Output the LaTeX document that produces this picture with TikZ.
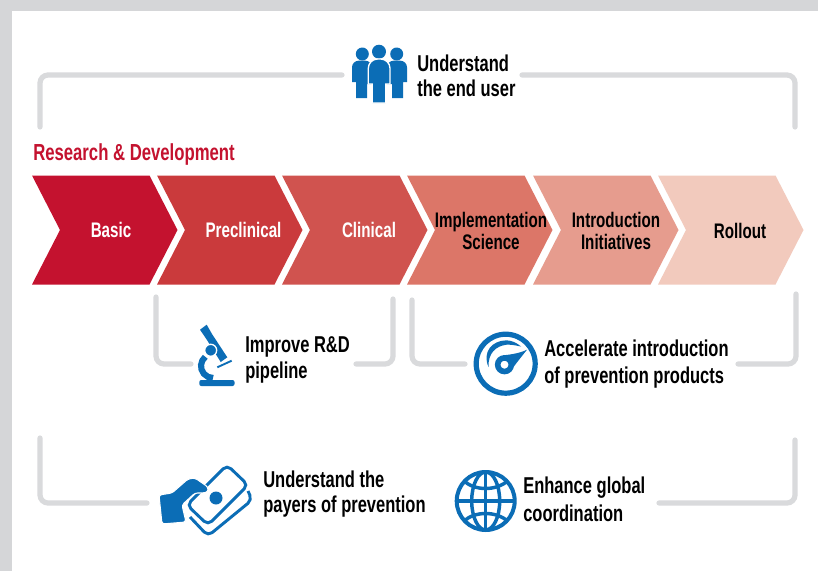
\documentclass[tikz,border=0pt]{standalone}
\usepackage{fontspec}
\setmainfont{Liberation Sans}[FakeStretch=0.72]
\usepackage{tikz}
\usetikzlibrary{positioning}
\definecolor{pagegray}{HTML}{D5D6D8}
\definecolor{linegray}{HTML}{D9DADC}
\definecolor{iconblue}{HTML}{0B6DB6}
\definecolor{headred}{HTML}{C4122F}
\definecolor{stepb}{HTML}{CA3A3C}
\definecolor{stepc}{HTML}{D0534F}
\definecolor{stepd}{HTML}{DC7668}
\definecolor{stepe}{HTML}{E69C8E}
\definecolor{stepf}{HTML}{F2CABD}
\tikzset{
	bracket/.style={draw=linegray, line width=3.9pt, line cap=round, rounded corners=6pt},
	chevlabel/.style={font=\fontsize{15.8}{16.5}\selectfont\bfseries, align=center},
	sidelabel/.style={font=\fontsize{17.2}{18.9}\selectfont\bfseries, align=left, anchor=west, inner sep=0pt},
	icon/.style={fill=iconblue, draw=none},
	iconline/.style={draw=iconblue, fill=none}
}
\newcommand{\chevron}[2]{\fill[#2] (#1,-175.5) -- ++(117.5,0) -- ++(28,-54.5) -- ++(-28,-54.5) -- ++(-117.5,0) -- ++(28,54.5) -- cycle;}
\begin{document}
\begin{tikzpicture}[x=0.75pt, y=0.75pt]
	\useasboundingbox (0,0) rectangle (818,-571);
	\fill[pagegray] (0,0) rectangle (818,-571);
	\fill[white] (12,-11) rectangle (818,-571);

	% chevrons
	\chevron{32}{headred}
	\chevron{157}{stepb}
	\chevron{282}{stepc}
	\chevron{407}{stepd}
	\chevron{533}{stepe}
	\chevron{658}{stepf}

	\node[chevlabel, text=white] (basic) at (111,-230) {Basic};
	\node[chevlabel, text=white] (preclinical) at (243.5,-230) {Preclinical};
	\node[chevlabel, text=white] (clinical) at (369,-230) {Clinical};
	\node[chevlabel] (implementation) at (491,-230.5) {Implementation\\Science};
	\node[chevlabel] (introduction) at (616,-230.5) {Introduction\\Initiatives};
	\node[chevlabel] (rollout) at (740,-231) {Rollout};

	\node[anchor=west, inner sep=0pt, text=headred, font=\fontsize{17.4}{18}\selectfont\bfseries] (heading) at (33,-154.5) {Research \& Development};

	% brackets
	\draw[bracket] (40,-127) -- (40,-75) -- (342,-75);
	\draw[bracket] (522,-75) -- (795,-75) -- (795,-127);
	\draw[bracket] (156,-297) -- (156,-364) -- (191,-364);
	\draw[bracket] (356,-364) -- (393,-364) -- (393,-299);
	\draw[bracket] (412,-300) -- (412,-364) -- (465,-364);
	\draw[bracket] (738,-364) -- (796,-364) -- (796,-294);
	\draw[bracket] (40,-438) -- (40,-503) -- (147,-503);
	\draw[bracket] (659,-503) -- (795,-503) -- (795,-440);

	\node[sidelabel] (enduser) at (417,-75.5) {Understand\\the end user};
	\node[sidelabel] (pipeline) at (245,-360) {Improve R\&D\\pipeline};
	\node[sidelabel] (products) at (544,-364) {Accelerate introduction\\[1.5pt]of prevention products};
	\node[sidelabel] (payers) at (263,-494) {Understand the\\payers of prevention};
	\node[sidelabel] (global) at (523,-499.5) {Enhance global\\[2pt]coordination};

	% people
	\fill[icon] (362.3,-54) circle (6.5);
	\fill[icon] (396.7,-54) circle (6.5);
	\fill[icon] (379,-51.7) circle (7);
	\fill[icon, rounded corners=5pt] (352,-82) -- (352,-60.7) -- (372,-60.7) [sharp corners] -- (372,-84) -- (367,-84) -- (367,-98) -- (356,-98) -- (356,-82) -- cycle;
	\fill[icon, rounded corners=5pt] (407,-82) -- (407,-60.7) -- (387,-60.7) [sharp corners] -- (387,-84) -- (392,-84) -- (392,-98) -- (403,-98) -- (403,-82) -- cycle;
	\draw[white, line width=1pt, fill=iconblue, rounded corners=7pt] (368.3,-84) -- (368.3,-59) -- (390,-59) [sharp corners] -- (390,-84) -- (385.7,-84) -- (385.7,-103) -- (372.3,-103) -- (372.3,-84) -- cycle;

	% microscope
	\fill[icon, rounded corners=1.5pt] (199.3,-386) -- (199.3,-380) -- (234.5,-380) -- (234.5,-386) -- cycle;
	\draw[iconblue, line width=4.6pt] (205.3,-356.8) arc[start angle=130, end angle=270, radius=12];
	\fill[icon] (200,-329.7) -- (206.7,-324.7) -- (212,-334) -- (227.3,-357.3) -- (220.7,-362) -- (207,-340) -- cycle;
	\draw[white, line width=1pt, fill=iconblue] (210.7,-350.3) circle (6);
	\draw[iconblue, line width=1.4pt] (217.3,-367.3) -- (231.7,-360.7);

	% gauge
	\draw[iconline, line width=3.9pt] (505.7,-363.7) circle (29.5);
	\draw[iconline, line width=4.2pt] (504.5,-364.7) circle (6.8);
	\fill[icon] (503,-355.3) .. controls (512,-354.5) and (520,-353) .. (527,-349.7) .. controls (522,-356) and (518,-361) .. (513.5,-367) -- cycle;
	\fill[icon] (488.5,-367) .. controls (482,-352) and (492,-340.5) .. (506.5,-340.3) .. controls (512,-340.5) and (517,-343) .. (521,-346.5) .. controls (514,-345) and (510,-344.5) .. (506.5,-344.7) .. controls (496,-346) and (488,-353) .. (488.5,-367) -- cycle;

	% notes and hand
	\draw[iconline, line width=2.2pt, rounded corners=4pt] (248,-491) -- (252,-500) -- (208,-536) -- (190,-517);
	\draw[iconline, line width=2.2pt, rounded corners=4pt, fill=white] (227,-465) -- (248,-485) -- (208,-525) -- (187,-505) -- cycle;
	\fill[icon] (216,-498) circle (6.5);
	\draw[white, line width=0.8pt, fill=iconblue, rounded corners=2pt] (159,-495) -- (172,-493) -- (188,-479) -- (195,-478) -- (208,-487) -- (208,-492) -- (203,-493) -- (195,-493) -- (182,-505) -- (186,-522) -- (162,-524) -- cycle;

	% globe
	\begin{scope}[iconline, line width=2.6pt]
		\draw[line width=3pt] (485.7,-501) circle (29);
		\draw (485.7,-501) ellipse (14 and 29);
		\draw (485.7,-472) -- (485.7,-530);
		\draw (456.7,-501) -- (514.7,-501);
		\draw (464,-481) .. controls (475,-491) and (496,-491) .. (507.5,-481);
		\draw (464,-521) .. controls (475,-511) and (496,-511) .. (507.5,-521);
	\end{scope}
\end{tikzpicture}
\end{document}
